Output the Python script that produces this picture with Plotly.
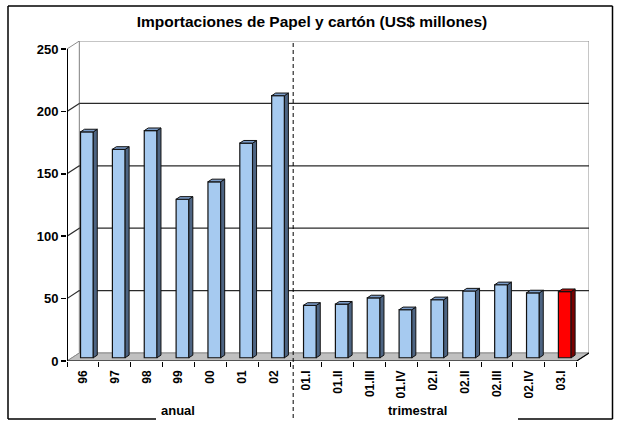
import plotly.graph_objects as go

# ---- data ----
categories = ["96", "97", "98", "99", "00", "01", "02",
              "01.I", "01.II", "01.III", "01.IV", "02.I", "02.II", "02.III", "02.IV", "03.I"]
values = [181, 167, 182, 127, 141, 172, 210,
          42, 43, 48, 38.5, 46.5, 53.5, 58.5, 52, 53]
highlight = [False] * 15 + [True]
y_ticks = [0, 50, 100, 150, 200, 250]
group_labels = ["anual", "trimestral"]

# ---- pseudo-3D geometry (in axis units) ----
N = len(categories)
DX, DY = 0.386, 6.4          # depth of the chart box
BX, BY = 0.125, 2.1          # depth of each bar
BAR_W = 0.40
BASE = 2.6                   # bars stand slightly behind the front edge
SHIFT = 0.125

FONT = "Liberation Sans, Arial, sans-serif"
BLUE_FRONT, BLUE_SIDE, BLUE_TOP = "#a6caf0", "#4d6482", "#7b9cc8"
RED_FRONT, RED_SIDE, RED_TOP = "#ff0000", "#7a0000", "#c00000"

xc = [i + 0.5 + SHIFT for i in range(N)]

fig = go.Figure()

# front faces
fig.add_trace(go.Bar(
    x=xc, y=values, base=BASE, width=BAR_W,
    marker=dict(color=[RED_FRONT if h else BLUE_FRONT for h in highlight],
                line=dict(color="#111111", width=1.2)),
    hoverinfo="skip", showlegend=False))


def faces(sel):
    sx, sy, tx, ty = [], [], [], []
    for x, v, h in zip(xc, values, highlight):
        if h != sel:
            continue
        r = x + BAR_W / 2
        l = x - BAR_W / 2
        top = BASE + v
        sx += [r, r + BX, r + BX, r, r, None]
        sy += [BASE, BASE + BY, top + BY, top, BASE, None]
        tx += [l, r, r + BX, l + BX, l, None]
        ty += [top, top, top + BY, top + BY, top, None]
    return sx, sy, tx, ty


for sel, cs, ct in [(False, BLUE_SIDE, BLUE_TOP), (True, RED_SIDE, RED_TOP)]:
    sx, sy, tx, ty = faces(sel)
    fig.add_trace(go.Scatter(x=sx, y=sy, mode="lines", fill="toself", fillcolor=cs,
                             line=dict(color="#111111", width=1), hoverinfo="skip",
                             showlegend=False))
    fig.add_trace(go.Scatter(x=tx, y=ty, mode="lines", fill="toself", fillcolor=ct,
                             line=dict(color="#111111", width=1), hoverinfo="skip",
                             showlegend=False))

shapes = []
# back wall
shapes.append(dict(type="rect", xref="x", yref="y", x0=DX, x1=N + DX, y0=DY, y1=250 + DY,
                   line=dict(color="#8c8c8c", width=1), fillcolor="white", layer="below"))
# left wall
shapes.append(dict(type="path", xref="x", yref="y",
                   path=f"M 0 0 L {DX} {DY} L {DX} {250 + DY} L 0 250 Z",
                   line=dict(color="#8c8c8c", width=1), fillcolor="white", layer="below"))
# floor
shapes.append(dict(type="path", xref="x", yref="y",
                   path=f"M 0 0 L {N} 0 L {N + DX} {DY} L {DX} {DY} Z",
                   line=dict(color="#8c8c8c", width=1), fillcolor="#c0c0c0", layer="below"))
# gridlines (back wall + slant on side wall)
for v in y_ticks[1:-1]:
    shapes.append(dict(type="line", xref="x", yref="y", x0=DX, x1=N + DX, y0=v + DY, y1=v + DY,
                       line=dict(color="#2a2a2a", width=1.2), layer="below"))
    shapes.append(dict(type="line", xref="x", yref="y", x0=0, x1=DX, y0=v, y1=v + DY,
                       line=dict(color="#2a2a2a", width=1.2), layer="below"))
# front floor edge and right slant
shapes.append(dict(type="path", xref="x", yref="y",
                   path=f"M 0 0 L {N} 0 L {N + DX} {DY}",
                   line=dict(color="black", width=1.2)))
# y axis line
shapes.append(dict(type="line", xref="x", yref="y", x0=0, x1=0, y0=0, y1=250,
                   line=dict(color="black", width=2)))
# dashed separator
shapes.append(dict(type="line", xref="x", yref="paper", x0=7.1, x1=7.1, y0=-0.2, y1=1,
                   line=dict(color="black", width=1, dash="4px,3px")))

W, H = 621, 421
L, T = 67, 41
PW, PH = 522, 320


def px(v):
    return (v - L) / PW


def py(v):
    return (T + PH - v) / PH


bl = dict(color="black", width=1.5)
shapes.append(dict(type="line", xref="paper", yref="paper", x0=px(8), x1=px(8), y0=py(6), y1=py(419), line=bl))
shapes.append(dict(type="line", xref="paper", yref="paper", x0=px(612.5), x1=px(612.5), y0=py(6), y1=py(419), line=bl))
shapes.append(dict(type="line", xref="paper", yref="paper", x0=px(8), x1=px(612.5), y0=py(6), y1=py(6), line=bl))
shapes.append(dict(type="line", xref="paper", yref="paper", x0=px(8), x1=px(156), y0=py(419), y1=py(419), line=bl))
shapes.append(dict(type="line", xref="paper", yref="paper", x0=px(518), x1=px(612.5), y0=py(419), y1=py(419), line=bl))

annotations = [
    dict(text=f"<b>{group_labels[0]}</b>", xref="paper", yref="paper", x=px(178), y=py(410),
         xanchor="center", yanchor="middle",
         showarrow=False, font=dict(family=FONT, size=13, color="black")),
    dict(text=f"<b>{group_labels[1]}</b>", xref="paper", yref="paper", x=px(417), y=py(410),
         xanchor="center", yanchor="middle",
         showarrow=False, font=dict(family=FONT, size=13, color="black")),
]

fig.update_layout(
    width=W, height=H,
    margin=dict(l=L, r=W - L - PW, t=T, b=H - T - PH),
    paper_bgcolor="white", plot_bgcolor="white",
    title=dict(text="<b>Importaciones de Papel y cartón (US$ millones)</b>",
               x=312 / W, xref="container", xanchor="center",
               y=1 - 22 / H, yref="container", yanchor="middle",
               font=dict(family=FONT, size=15.5, color="black")),
    xaxis=dict(range=[0, N + DX], tickmode="array", tickvals=[i + 0.5 for i in range(N)],
               ticktext=[f"<b>{c}</b>" for c in categories], tickangle=-90, ticks="",
               ticklabelstandoff=6,
               minor=dict(tickmode="array", tickvals=list(range(N + 1)), ticks="outside",
                          ticklen=5, tickcolor="black", tickwidth=1, showgrid=False),
               showgrid=False, zeroline=False, showline=False,
               tickfont=dict(family=FONT, size=12, color="black"), fixedrange=True),
    yaxis=dict(range=[0, 250 + DY], tickmode="array", tickvals=y_ticks,
               ticktext=[f"<b>{t}</b>" for t in y_ticks], ticks="outside", ticklen=5,
               tickcolor="black", tickwidth=1.5, showgrid=False, zeroline=False,
               showline=False, tickfont=dict(family=FONT, size=13, color="black"),
               fixedrange=True),
    shapes=shapes, annotations=annotations, bargap=0, showlegend=False,
)

fig.write_html(
    "out.html",
    config={"displayModeBar": False, "staticPlot": True},
    post_script="document.body.style.margin='0';document.body.style.overflow='hidden';",
)
